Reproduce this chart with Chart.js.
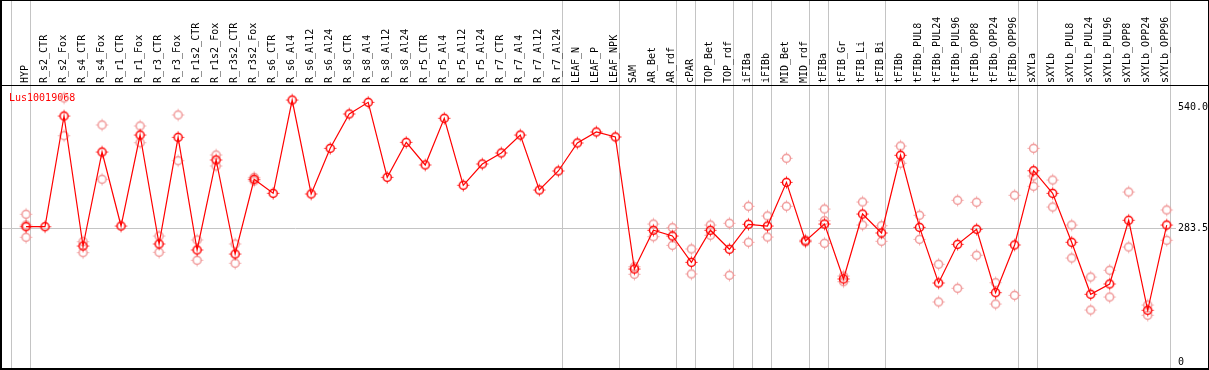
<!DOCTYPE html>
<html>
<head>
<meta charset="utf-8">
<script src="https://cdn.jsdelivr.net/npm/chart.js@4"></script>
<style>
  body { margin: 0; background: #fff; }
</style>
</head>
<body>
<canvas id="myChart" width="1209" height="370"></canvas>
<script>
// sample names, in plot order
var categories = ['HYP', 'R_s2_CTR', 'R_s2_Fox', 'R_s4_CTR', 'R_s4_Fox', 'R_r1_CTR', 'R_r1_Fox',
  'R_r3_CTR', 'R_r3_Fox', 'R_r1s2_CTR', 'R_r1s2_Fox', 'R_r3s2_CTR', 'R_r3s2_Fox',
  'R_s6_CTR', 'R_s6_Al4', 'R_s6_Al12', 'R_s6_Al24', 'R_s8_CTR', 'R_s8_Al4', 'R_s8_Al12', 'R_s8_Al24',
  'R_r5_CTR', 'R_r5_Al4', 'R_r5_Al12', 'R_r5_Al24', 'R_r7_CTR', 'R_r7_Al4', 'R_r7_Al12', 'R_r7_Al24',
  'LEAF_N', 'LEAF_P', 'LEAF_NPK', 'SAM', 'AR_Bet', 'AR_rdf', 'cPAR', 'TOP_Bet', 'TOP_rdf',
  'iFIBa', 'iFIBb', 'MID_Bet', 'MID_rdf', 'tFIBa', 'tFIB_Gr', 'tFIB_Li', 'tFIB_Bi', 'tFIBb',
  'tFIBb_PUL8', 'tFIBb_PUL24', 'tFIBb_PUL96', 'tFIBb_OPP8', 'tFIBb_OPP24', 'tFIBb_OPP96',
  'sXYLa', 'sXYLb', 'sXYLb_PUL8', 'sXYLb_PUL24', 'sXYLb_PUL96', 'sXYLb_OPP8', 'sXYLb_OPP24', 'sXYLb_OPP96'];

// mean expression per sample
var meanValues = [286.5, 286.5, 520.9, 245.6, 444.7, 288.0, 480.7, 249.9, 475.8, 237.2, 427.8, 228.7, 386.9,
  357.2, 554.8, 355.8, 452.5, 525.2, 549.9, 391.1, 465.2, 417.2, 516.1, 374.2, 419.3, 442.6, 480.7, 364.2, 404.5,
  463.8, 487.1, 476.5, 196.9, 278.9, 266.8, 211.1, 278.9, 238.7, 291.6, 288.0, 380.5, 256.2, 292.2, 175.8,
  313.4, 273.2, 437.7, 285.2, 167.3, 249.2, 281.0, 146.8, 247.8, 405.1, 357.2, 253.5, 143.4, 165.2, 300.1,
  109.5, 290.1];

// single replicates (faint circles)
var replicateValues = [
  [312.8, 290.1, 264.1], [], [559.1, 479.2], [254.7, 231.5], [501.9, 386.9], [], [499.8, 464.4],
  [266.8, 232.3], [523.1, 426.3], [258.4, 215.4], [438.4, 415.1], [249.9, 209.0], [391.1, 383.3],
  [], [], [], [], [], [], [], [], [], [], [], [], [], [], [], [], [], [], [],
  [201.8, 185.7], [292.2, 265.3], [284.4, 247.1], [239.3, 186.4], [290.1, 268.3], [293.7, 183.6],
  [329.7, 253.5], [309.2, 264.7], [431.4, 329.7], [258.4, 254.1], [324.0, 299.2, 251.4], [182.1, 170.0],
  [338.8, 290.1], [288.6, 255.6], [457.4, 420.8], [310.7, 259.8], [206.9, 127.1], [342.4, 156.1],
  [338.2, 226.0], [167.9, 122.8], [353.0, 141.2], [452.5, 393.9, 372.1], [385.4, 328.2], [290.1, 220.2],
  [180.0, 110.1], [194.2, 137.6], [360.0, 243.5], [120.7, 98.9], [321.9, 257.7]];

// last sample index of each group (separator lines)
var groupEnds = [-1, 0, 28, 31, 34, 35, 37, 38, 39, 41, 42, 45, 52, 53, 60];

var yTickValues = [0, 283.5, 540];
var yTickLabels = ['0', '283.5', '540.0'];
var geneName = 'Lus10019068';

var MONO = 'DejaVu Sans Mono';
var GRID = '#c4c4c4';

function makeMarker(color) {
  var c = document.createElement('canvas');
  c.width = 15; c.height = 15;
  var g = c.getContext('2d');
  g.strokeStyle = color;
  g.lineWidth = 1.5;
  g.beginPath();
  g.arc(7.5, 7.5, 4, 0, Math.PI * 2);
  g.stroke();
  g.lineWidth = 1;
  g.beginPath();
  g.moveTo(7.5, 1.5); g.lineTo(7.5, 2.8);
  g.moveTo(7.5, 12.2); g.lineTo(7.5, 13.5);
  g.moveTo(1.5, 7.5); g.lineTo(2.8, 7.5);
  g.moveTo(12.2, 7.5); g.lineTo(13.5, 7.5);
  g.stroke();
  return c;
}

var meanPoints = meanValues.map(function (v, i) { return { x: i, y: v }; });
var repPoints = [];
replicateValues.forEach(function (arr, i) {
  arr.forEach(function (v) { repPoints.push({ x: i, y: v }); });
});

var frame = {
  id: 'frame',
  beforeDatasetsDraw: function (chart) {
    var c = chart.ctx;
    c.save();
    c.fillStyle = '#ff0000';
    c.font = '10px "' + MONO + '"';
    c.textBaseline = 'alphabetic';
    c.fillText(geneName, 9, 101);
    c.restore();
  },
  afterDraw: function (chart) {
    var c = chart.ctx, w = chart.width, h = chart.height;
    c.save();
    c.fillStyle = '#000';
    c.fillRect(0, 0, w, 1);
    c.fillRect(0, 0, 2, h);
    c.fillRect(w - 1, 0, 1, h);
    c.fillRect(0, h - 2, w, 2);
    c.fillRect(0, 85, w, 1);
    c.restore();
  }
};

var ctx = document.getElementById('myChart');
var myChart = new Chart(ctx, {
  type: 'line',
  data: {
    datasets: [{
      label: geneName,
      data: meanPoints,
      borderColor: '#ff0000',
      borderWidth: 1.2,
      pointStyle: makeMarker('#ff0000'),
      pointRadius: 6,
      tension: 0,
      order: 0
    }, {
      label: 'replicates',
      data: repPoints,
      showLine: false,
      borderColor: '#f09898',
      pointStyle: makeMarker('#f09898'),
      pointRadius: 6,
      order: 1
    }]
  },
  options: {
    responsive: false,
    animation: false,
    devicePixelRatio: 1,
    layout: { autoPadding: false, padding: { left: 2, right: 1, top: 0, bottom: 2 } },
    plugins: {
      legend: { display: false },
      tooltip: { enabled: false }
    },
    scales: {
      x: {
        type: 'linear',
        position: 'top',
        min: -1.2624,
        max: 60.489,
        afterBuildTicks: function (axis) {
          var t = categories.map(function (c, i) { return { value: i }; });
          groupEnds.forEach(function (g) { t.push({ value: g + 0.22 }); });
          t.sort(function (a, b) { return a.value - b.value; });
          axis.ticks = t;
        },
        afterFit: function (axis) {
          axis.height = 85;
          axis.paddingLeft = 0;
          axis.paddingRight = 0;
        },
        grid: {
          color: function (c) {
            return c.tick && !Number.isInteger(c.tick.value) ? GRID : 'rgba(0,0,0,0)';
          },
          lineWidth: 1,
          tickLength: 85
        },
        border: { display: false },
        ticks: {
          autoSkip: false,
          minRotation: 90,
          maxRotation: 90,
          padding: -83,
          labelOffset: 11,
          color: '#000',
          font: { family: MONO, size: 10 },
          callback: function (v) { return Number.isInteger(v) ? categories[v] : ''; }
        }
      },
      y: {
        position: 'right',
        min: -12.706,
        max: 586.59,
        afterBuildTicks: function (axis) {
          axis.ticks = yTickValues.map(function (v) { return { value: v }; });
        },
        afterFit: function (axis) {
          axis.width = 32;
          axis.paddingTop = 0;
          axis.paddingBottom = 0;
        },
        grid: {
          color: function (c) {
            return c.tick && c.tick.value === 283.5 ? GRID : 'rgba(0,0,0,0)';
          },
          drawTicks: false
        },
        border: { display: false },
        ticks: {
          padding: 2,
          color: '#000',
          font: { family: MONO, size: 10 },
          callback: function (v, i) { return yTickLabels[i]; }
        }
      }
    }
  },
  plugins: [frame]
});
</script>
</body>
</html>
